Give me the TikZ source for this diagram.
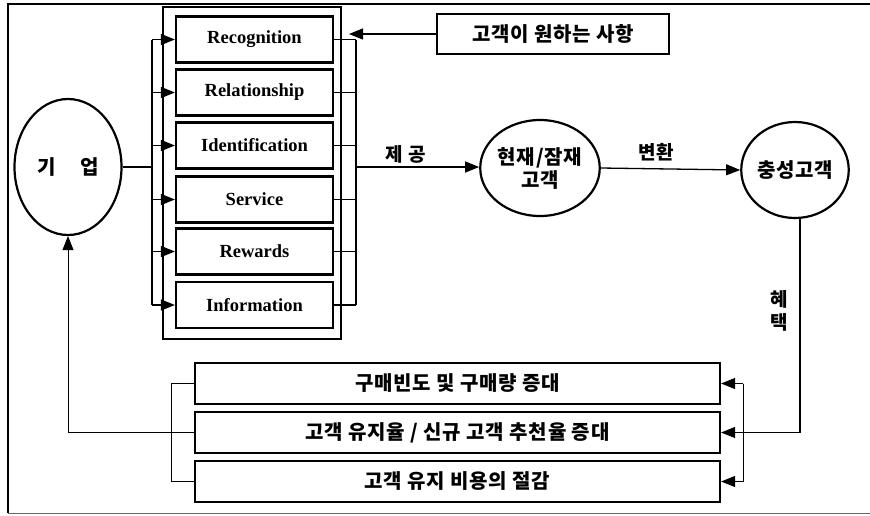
\documentclass[tikz,border=0pt]{standalone}
\usepackage{fontspec}
\setmainfont{Liberation Serif}
\newfontfamily\kr{Noto Sans CJK KR}[LetterSpace=4]
\usetikzlibrary{arrows.meta,calc,shapes.geometric}
\begin{document}
\begin{tikzpicture}[x=1pt,y=-1pt,
  ebox/.style={draw,line width=2.2pt,minimum width=157pt,minimum height=46pt,inner sep=0pt,
    font=\fontsize{18.5}{20}\selectfont\bfseries},
  kbox/.style={draw,line width=2.2pt,inner sep=0pt,font=\kr\bfseries\fontsize{20}{22}\selectfont},
  ell/.style={draw,ellipse,line width=2.2pt,inner sep=0pt,align=center,
    font=\kr\bfseries\fontsize{20}{23}\selectfont},
  klabel/.style={font=\kr\bfseries\fontsize{19}{23}\selectfont,align=center,inner sep=0pt},
  con/.style={line width=1.3pt},
  tip/.style={-{Triangle[length=14pt,width=11pt]}},
  arr/.style={con,tip},
  thinline/.style={line width=0.9pt}
]
\useasboundingbox (0,0) rectangle (870,515);
% frame
\draw[line width=2.2pt] (870,4) -- (8,4) -- (8,513);
\draw[line width=1pt,black!60] (8,513) -- (870,513);

% left ellipse
\node[ell,minimum width=107pt,minimum height=136pt] (firm) at (68,167) {기\hspace{24pt}업};

% container
\node[draw,line width=2pt,minimum width=178pt,minimum height=332pt,inner sep=0pt] (cont) at (252,173) {};

% inner boxes
\node[ebox] (b1) at (254.5,39.5) {Recognition};
\node[ebox] (b2) at (254.5,92.5) {Relationship};
\node[ebox] (b3) at (254.5,145.5) {Identification};
\node[ebox] (b4) at (254.5,199.5) {Service};
\node[ebox] (b5) at (254.5,251.5) {Rewards};
\node[ebox] (b6) at (254.5,305) {Information};

% wants box
\node[kbox,minimum width=232pt,minimum height=40pt] (want) at (553,34) {고객이 원하는 사항};
\coordinate (wantend) at (349,34);
\draw[arr] (want.west) -- (wantend);

% buses
\coordinate (lbus) at (152,167);
\coordinate (rbus) at (356,167);
\draw[con] (firm.east) -- (lbus);
\draw[con] (b1.west -| lbus) -- (b6.west -| lbus);
\foreach \b in {b1,b2,b3,b4,b5,b6} {
  \draw[arr] (\b.west -| lbus) -- (\b.west);
  \draw[con] (\b.east) -- (\b.east -| rbus);
}
\draw[con] (b1.east -| rbus) -- (b6.east -| rbus);

% customer circles
\node[ell,minimum width=116pt,minimum height=96pt] (cur) at (540,168) {현재/잠재\\고객};
\node[ell,minimum width=107pt,minimum height=96pt] (loyal) at (795,170) {충성고객};
\draw[arr] (rbus) -- (rbus -| cur.west);
\node[klabel] (give) at (406,154) {제 공};
\draw[arr] (cur.east) -- (loyal.west);
\node[klabel] (conv) at (656,152) {변환};

% bottom boxes
\node[kbox,minimum width=525pt,minimum height=41pt] (r1) at (457.5,383.5) {구매빈도 및 구매량 증대};
\node[kbox,minimum width=525pt,minimum height=41pt] (r2) at (457.5,432.5) {고객 유지율 / 신규 고객 추천율 증대};
\node[kbox,minimum width=525pt,minimum height=41pt] (r3) at (457.5,481.5) {고객 유지 비용의 절감};

% benefit path
\coordinate (brbus) at (743,432.5);
\coordinate (blbus) at (171,432.5);
\draw[con] (loyal.-84) |- (brbus);
\node[klabel] (benefit) at (779,311) {혜\\택};
\draw[thinline] (r1.east -| brbus) -- (r3.east -| brbus);
\foreach \r in {r1,r2,r3} {
  \draw[thinline,tip] (\r.east -| brbus) -- (\r.east);
  \draw[thinline] (\r.west) -- (\r.west -| blbus);
}
\draw[thinline] (r1.west -| blbus) -- (r3.west -| blbus);
\draw[thinline,tip] (r2.west) -- (r2.west -| firm.south) -- (firm.south);
\end{tikzpicture}
\end{document}
